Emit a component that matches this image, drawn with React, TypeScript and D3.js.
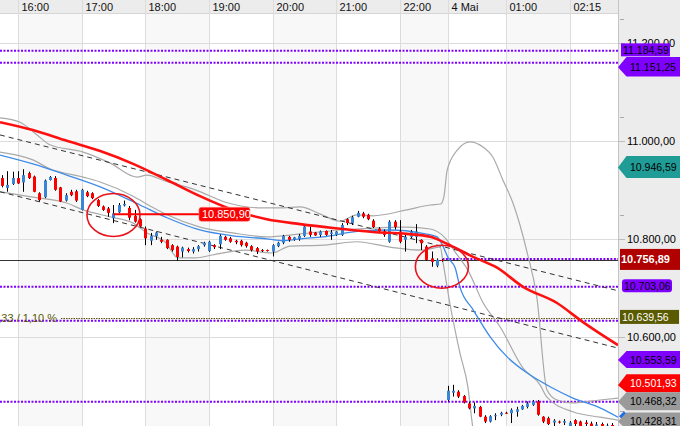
import React from 'react';
import * as d3 from 'd3';

// [open, high, low, close] per 5-minute candle
const candles: number[][] = [
  [10925, 10931, 10906, 10909], [10905, 10939, 10897, 10911], [10913, 10938, 10911, 10925], [10925, 10939, 10913, 10914],
  [10916, 10943, 10897, 10931], [10935, 10938, 10923, 10925], [10928, 10930, 10896, 10897], [10894, 10896, 10877, 10880],
  [10886, 10922, 10884, 10920], [10921, 10929, 10920, 10927], [10925, 10929, 10899, 10901], [10906, 10907, 10876, 10877],
  [10879, 10894, 10877, 10890], [10897, 10901, 10888, 10890], [10898, 10901, 10876, 10879], [10860, 10903, 10859, 10901],
  [10896, 10899, 10886, 10888], [10894, 10896, 10882, 10884], [10880, 10882, 10866, 10868], [10867, 10869, 10858, 10860],
  [10863, 10866, 10846, 10854], [10843, 10870, 10833, 10853], [10855, 10874, 10853, 10870], [10869, 10879, 10867, 10872],
  [10864, 10868, 10839, 10844], [10848, 10860, 10834, 10836], [10841, 10843, 10825, 10826], [10822, 10826, 10788, 10802],
  [10797, 10813, 10788, 10807], [10806, 10816, 10799, 10814], [10799, 10805, 10792, 10795], [10799, 10800, 10780, 10782],
  [10788, 10790, 10775, 10778], [10785, 10787, 10756, 10764], [10775, 10785, 10763, 10783], [10780, 10783, 10773, 10776],
  [10775, 10784, 10771, 10780], [10780, 10788, 10775, 10786], [10788, 10795, 10785, 10793], [10776, 10797, 10774, 10795],
  [10788, 10790, 10780, 10784], [10790, 10810, 10780, 10807], [10805, 10807, 10797, 10799], [10802, 10805, 10793, 10795],
  [10797, 10799, 10790, 10794], [10797, 10799, 10785, 10788], [10793, 10795, 10783, 10786], [10786, 10788, 10775, 10778],
  [10782, 10784, 10770, 10775], [10778, 10780, 10774, 10776], [10778, 10779, 10775, 10776], [10775, 10790, 10765, 10788],
  [10786, 10795, 10784, 10793], [10793, 10809, 10790, 10807], [10805, 10807, 10795, 10799], [10799, 10805, 10797, 10804],
  [10800, 10811, 10797, 10807], [10807, 10829, 10805, 10826], [10816, 10826, 10805, 10809], [10814, 10815, 10807, 10808],
  [10809, 10818, 10805, 10816], [10817, 10818, 10807, 10809], [10811, 10819, 10799, 10814], [10809, 10817, 10807, 10816],
  [10809, 10833, 10807, 10829], [10841, 10843, 10829, 10833], [10833, 10848, 10829, 10845], [10846, 10858, 10845, 10854],
  [10853, 10856, 10843, 10846], [10850, 10852, 10839, 10841], [10838, 10841, 10823, 10825], [10822, 10825, 10812, 10816],
  [10816, 10820, 10805, 10809], [10795, 10839, 10793, 10836], [10836, 10839, 10820, 10825], [10816, 10839, 10792, 10795],
  [10799, 10812, 10775, 10805], [10805, 10819, 10802, 10816], [10805, 10831, 10792, 10816], [10799, 10800, 10778, 10792],
  [10785, 10788, 10756, 10758], [10761, 10775, 10744, 10754], [10746, 10761, 10743, 10758], [10758, 10760, 10754, 10757],
  [10472, 10501, 10469, 10491], [10487, 10503, 10479, 10491], [10489, 10492, 10476, 10479], [10480, 10482, 10465, 10467],
  [10465, 10469, 10453, 10455], [10455, 10467, 10445, 10460], [10458, 10460, 10437, 10438], [10438, 10441, 10425, 10428],
  [10428, 10441, 10426, 10439], [10439, 10445, 10431, 10441], [10442, 10448, 10439, 10446], [10446, 10448, 10444, 10445],
  [10445, 10455, 10425, 10452], [10448, 10458, 10438, 10453], [10453, 10462, 10452, 10460], [10458, 10469, 10455, 10465],
  [10462, 10472, 10460, 10469], [10469, 10472, 10440, 10442], [10438, 10439, 10425, 10428], [10435, 10438, 10421, 10423],
  [10426, 10433, 10419, 10430], [10428, 10430, 10424, 10426], [10426, 10433, 10421, 10429], [10419, 10429, 10415, 10426],
  [10431, 10433, 10419, 10423], [10428, 10430, 10415, 10419], [10426, 10431, 10419, 10423], [10424, 10428, 10412, 10418],
  [10416, 10427, 10412, 10422], [10423, 10426, 10410, 10415], [10415, 10424, 10411, 10420], [10421, 10425, 10409, 10414],
];

const timeTickIndex = [3, 15, 27, 39, 51, 63, 75, 84, 95, 107];
const timeTickLabels = ['16:00', '17:00', '18:00', '19:00', '20:00', '21:00', '22:00', '4 Mai', '01:00', '02:15'];

const priceTicks = [11200, 11000, 10800, 10600, 10400];
const minorPriceTicks = [11250, 11050, 10850, 10650, 10450];

// [candle index, price]
const redAverage: number[][] = [
  [-0.4, 11039], [5.8, 11023], [12.2, 11001], [18.5, 10980], [24.7, 10954], [31.1, 10921], [37.3, 10888],
  [43.5, 10860], [49.9, 10841], [56.2, 10831], [62.4, 10823], [69.9, 10815], [76.3, 10811], [80.7, 10805],
  [84.4, 10788], [88.8, 10764], [93.3, 10742], [98.2, 10703], [104.6, 10670], [109.5, 10631], [116.1, 10584],
];
const blueAverage: number[][] = [
  [-0.4, 10972], [5.8, 10954], [12.2, 10931], [18.5, 10907], [26.0, 10870], [31.1, 10844], [37.3, 10819],
  [43.5, 10807], [49.9, 10801], [53.0, 10797], [56.2, 10801], [60.5, 10805], [66.9, 10816], [73.1, 10819],
  [79.3, 10812], [82.0, 10805], [83.1, 10786], [84.1, 10762], [85.4, 10742], [86.3, 10703], [88.8, 10656],
  [92.0, 10601], [95.2, 10560], [99.0, 10527], [103.3, 10499], [107.6, 10476], [112.7, 10456], [116.1, 10437],
];
const bandUpper: number[][] = [
  [-0.4, 11048], [3.4, 11039], [6.6, 11013], [9.0, 10993], [15.3, 10978], [20.3, 10956], [25.4, 10927],
  [27.3, 10931], [30.7, 10919], [36.4, 10901], [42.6, 10874], [49.0, 10864], [53.0, 10864], [56.2, 10866],
  [59.9, 10852], [63.7, 10837], [66.9, 10850], [69.9, 10848], [76.3, 10860], [80.7, 10870], [82.7, 10872],
  [83.3, 10888], [83.9, 10941], [85.8, 10982], [88.2, 10999], [90.7, 10988], [92.5, 10968], [94.4, 10921],
  [96.3, 10874], [99.0, 10772], [100.8, 10682], [102.7, 10493], [104.6, 10472], [107.6, 10466], [112.7, 10472], [116.1, 10476],
];
const bandMiddle: number[][] = [
  [-0.4, 10978], [5.8, 10962], [9.0, 10944], [15.3, 10927], [18.5, 10917], [24.7, 10888], [27.9, 10868],
  [31.1, 10850], [37.3, 10825], [43.5, 10813], [49.9, 10805], [56.2, 10811], [63.7, 10819], [69.9, 10823],
  [76.3, 10825], [80.7, 10821], [83.5, 10803], [85.4, 10774], [87.8, 10737], [90.7, 10670], [93.9, 10621],
  [98.2, 10537], [101.4, 10503], [102.7, 10478], [107.6, 10448], [112.7, 10437], [116.1, 10431],
];
const bandLower: number[][] = [
  [-0.4, 10897], [5.8, 10886], [12.2, 10874], [15.3, 10860], [20.3, 10846], [24.7, 10833], [27.3, 10813],
  [30.7, 10795], [33.2, 10762], [36.4, 10762], [39.6, 10768], [45.8, 10778], [50.9, 10772], [54.3, 10786],
  [60.5, 10788], [66.9, 10795], [73.1, 10784], [79.3, 10778], [82.6, 10784], [83.1, 10754], [84.4, 10670],
  [86.3, 10568], [87.8, 10499], [88.8, 10411], [90.1, 10370], [93.9, 10329], [116.1, 10350],
];
const trendUpper: number[][] = [[-0.4, 11013], [116.1, 10695]];
const trendLower: number[][] = [[-0.4, 10897], [116.1, 10578]];

const purpleLevels = [11184.59, 11160.4, 10703.06, 10634, 10468.32];
const purplePartialLevel = { fromIndex: 83, value: 10760 };
const oliveLevel = 10639.56;
const oliveText = '117,33 / 1,10 %';
const lastPrice = 10756.89;
const redLevel = { fromIndex: 21, toIndex: 37.3, value: 10850.9 };
const circles: number[][] = [[21, 10849.6], [82.9, 10744]];

const markerValues = [11184.59, 11151.25, 10946.59, 10756.89, 10703.06, 10639.56, 10553.59, 10501.93, 10468.32, 10428.31];

export default function App() {
  const W = 680, H = 426, plotR = 618, headerH = 13;
  const font = "'Liberation Sans', Arial, sans-serif";
  const x = d3.scaleLinear().domain([0, 116]).range([2.08, 2.08 + 116 * 5.305]);
  const y = d3.scaleLinear().domain([10600, 11200]).range([337.3, 43.3]);
  const fmt = d3.formatLocale({ decimal: ',', thousands: '.', grouping: [3], currency: ['', ''] }).format(',.2f');
  const line = d3.line<number[]>().x(d => x(d[0])).y(d => y(d[1])).curve(d3.curveMonotoneX);
  const straight = d3.line<number[]>().x(d => x(d[0])).y(d => y(d[1]));

  const tickXs = timeTickIndex.map(i => Math.round(x(i)) + 0.5);
  const shade: { x0: number; x1: number }[] = [];
  tickXs.forEach((tx, k) => {
    if (k % 2 === 0) shade.push({ x0: tx, x1: k + 1 < tickXs.length ? tickXs[k + 1] : plotR });
  });

  const styles = [
    { kind: 'rect', fill: '#8000ff', color: '#000', x0: 621, x1: 670, h: 13, bold: false, rx: 0 },
    { kind: 'arrow', fill: '#8000ff', color: '#000', h: 19.5 },
    { kind: 'arrow', fill: '#1f9c96', color: '#000', h: 22 },
    { kind: 'rect', fill: '#b00000', color: '#fff', x0: 620, x1: 680, h: 21, bold: true, rx: 0 },
    { kind: 'rect', fill: '#8000ff', color: '#000', x0: 622, x1: 672, h: 13, bold: false, rx: 3 },
    { kind: 'rect', fill: '#5a5a00', color: '#fff', x0: 620, x1: 679, h: 14, bold: false, rx: 0 },
    { kind: 'arrow', fill: '#8000ff', color: '#000', h: 17 },
    { kind: 'arrow', fill: '#ff0000', color: '#fff', h: 18 },
    { kind: 'arrow', fill: '#9a9a9a', color: '#000', h: 18 },
    { kind: 'arrow', fill: '#9a9a9a', color: '#000', h: 17 },
  ] as any[];
  const markers = markerValues.map((v, i) => ({ v, cy: y(v) - (styles[i].kind === 'rect' ? 1 : 0.5), ...styles[i] }));
  const arrows = markers.filter(m => m.kind === 'arrow' && m.v < 10600).sort((a, b) => b.cy - a.cy);
  for (let k = 1; k < arrows.length; k++) {
    const prevTop = arrows[k - 1].cy - arrows[k - 1].h / 2;
    if (arrows[k].cy + arrows[k].h / 2 > prevTop) arrows[k].cy = prevTop - arrows[k].h / 2;
  }

  const blueEnd = blueAverage[blueAverage.length - 1];
  const bx = plotR, by = y(blueEnd[1]);

  return (
    <svg width={W} height={H} style={{ position: 'absolute', left: 0, top: 0, background: '#fff' }} fontFamily={font}>
      <defs>
        <clipPath id="plot"><rect x={0} y={headerH + 1} width={plotR} height={H - headerH - 1} /></clipPath>
      </defs>
      <rect x={0} y={0} width={W} height={H} fill="#fff" />
      {shade.map((s, i) => <rect key={i} x={s.x0} y={headerH + 1} width={s.x1 - s.x0} height={H} fill="#f8f8f8" />)}
      <rect x={0} y={0} width={W} height={headerH} fill="#ececec" />
      <line x1={0} x2={W} y1={headerH + 0.5} y2={headerH + 0.5} stroke="#d6d6d6" />
      {tickXs.map((tx, i) => <line key={i} x1={tx} x2={tx} y1={0} y2={H} stroke="#dcdcdc" />)}
      {priceTicks.map(p => <line key={p} x1={0} x2={625} y1={Math.round(y(p)) + 0.5} y2={Math.round(y(p)) + 0.5} stroke="#dcdcdc" />)}
      {timeTickLabels.map((t, i) => (
        <text key={t} x={tickXs[i] + 3} y={10.5} fontSize={11} fill="#111">{t}</text>
      ))}

      <g clipPath="url(#plot)">
        <line x1={0} x2={plotR} y1={Math.round(y(lastPrice)) + 0.5} y2={Math.round(y(lastPrice)) + 0.5} stroke="#333" />
        {purpleLevels.map(v => (
          <line key={v} x1={0} x2={plotR} y1={y(v)} y2={y(v)} stroke="#8000ff" strokeWidth={2} strokeDasharray="2,1.5" />
        ))}
        <line x1={x(purplePartialLevel.fromIndex)} x2={plotR} y1={y(purplePartialLevel.value)} y2={y(purplePartialLevel.value)}
          stroke="#8000ff" strokeWidth={2} strokeDasharray="2,1.5" />
        <line x1={61} x2={plotR} y1={Math.round(y(oliveLevel)) + 0.5} y2={Math.round(y(oliveLevel)) + 0.5}
          stroke="#5a5a00" strokeWidth={1} strokeDasharray="1.5,1" />
        <text x={57} y={y(oliveLevel) + 4} textAnchor="end" fontSize={11} fill="#5a5a00">{oliveText}</text>

        <path d={line(bandUpper) || ''} fill="none" stroke="#a9a9a9" strokeWidth={1.2} />
        <path d={line(bandMiddle) || ''} fill="none" stroke="#a9a9a9" strokeWidth={1.2} />
        <path d={line(bandLower) || ''} fill="none" stroke="#a9a9a9" strokeWidth={1.2} />
        <path d={straight(trendUpper) || ''} fill="none" stroke="#333" strokeWidth={1} strokeDasharray="5,4" />
        <path d={straight(trendLower) || ''} fill="none" stroke="#333" strokeWidth={1} strokeDasharray="5,4" />
        <path d={line(blueAverage) || ''} fill="none" stroke="#3d8be8" strokeWidth={1.3} />

        {candles.map((c, i) => {
          const [o, h, l, cl] = c;
          const cx = Math.round(x(i));
          const up = cl >= o;
          const top = y(Math.max(o, cl)), bot = y(Math.min(o, cl));
          return (
            <g key={i}>
              <line x1={cx + 0.5} x2={cx + 0.5} y1={y(h)} y2={y(l)} stroke="#000" />
              <rect x={cx - 1} y={top} width={3} height={Math.max(1, bot - top)} fill={up ? '#3b85d6' : '#ff0000'} />
            </g>
          );
        })}

        <path d={line(redAverage) || ''} fill="none" stroke="#ff1010" strokeWidth={2.6} />
        <line x1={x(redLevel.fromIndex)} x2={x(redLevel.toIndex)} y1={y(redLevel.value)} y2={y(redLevel.value)} stroke="#ff0000" strokeWidth={2} />
        <rect x={x(redLevel.toIndex) - 1} y={y(redLevel.value) - 7} width={51} height={14} rx={2.5} fill="#ff0000" stroke="#ff8080" strokeWidth={0.6} />
        <text x={x(redLevel.toIndex) + 2} y={y(redLevel.value) + 4} fontSize={11} fill="#fff">{fmt(redLevel.value)}</text>
        {circles.map((c, i) => (
          <ellipse key={i} cx={x(c[0])} cy={y(c[1])} rx={26.5} ry={21.5} fill="none" stroke="#e8141c" strokeWidth={1.6} />
        ))}
      </g>

      <rect x={plotR} y={0} width={W - plotR} height={H} fill="#ececec" />
      <line x1={plotR + 0.5} x2={plotR + 0.5} y1={0} y2={H} stroke="#c4c4c4" />
      {priceTicks.map(p => <line key={p} x1={plotR} x2={625} y1={Math.round(y(p)) + 0.5} y2={Math.round(y(p)) + 0.5} stroke="#bdbdbd" />)}
      {minorPriceTicks.map(p => <line key={p} x1={620} x2={624} y1={Math.round(y(p)) + 0.5} y2={Math.round(y(p)) + 0.5} stroke="#aaa" />)}
      {priceTicks.map(p => (
        <text key={p} x={627} y={y(p) + 4} fontSize={11} fill="#000">{fmt(p)}</text>
      ))}
      <polygon points={`${bx + 1},${by - 1} ${bx + 6},${by - 6} ${bx + 9},${by - 3} ${bx + 4},${by + 2}`} fill="#1e6fe6" />
      {markers.map((m, i) => {
        if (m.kind === 'arrow') {
          const tipY = y(m.v);
          const t = m.cy - m.h / 2, b = m.cy + m.h / 2;
          return (
            <g key={i}>
              <polygon points={`${plotR},${tipY} ${626.5},${t} ${W},${t} ${W},${b} ${626.5},${b}`} fill={m.fill} />
              <text x={630} y={m.cy + 4} fontSize={10.5} fill={m.color}>{fmt(m.v)}</text>
            </g>
          );
        }
        return (
          <g key={i}>
            <rect x={m.x0} y={m.cy - m.h / 2} width={m.x1 - m.x0} height={m.h} rx={m.rx} fill={m.fill} />
            <text x={m.x0 + (m.bold ? 1 : 2)} y={m.cy + 4} fontSize={m.bold ? 11 : 10.5} fontWeight={m.bold ? 'bold' : 'normal'} fill={m.color}>{fmt(m.v)}</text>
          </g>
        );
      })}
    </svg>
  );
}
